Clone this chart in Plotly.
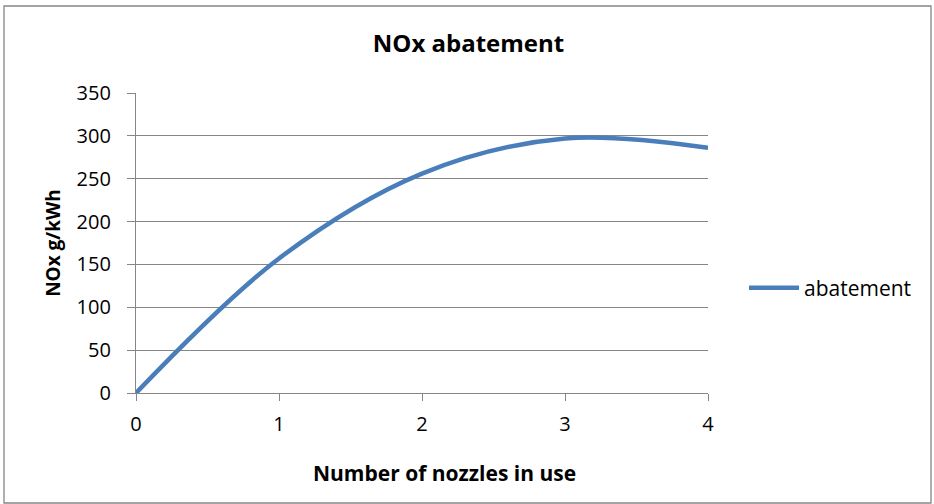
import plotly.graph_objects as go

# Measured NOx abatement by number of active nozzles
nozzles = [0, 1, 2, 3, 4]
abatement = [0, 157, 256, 297, 286]
y_ticks = [0, 50, 100, 150, 200, 250, 300, 350]
x_ticks = [0, 1, 2, 3, 4]

FONT = "'Open Sans', 'Noto Sans', sans-serif"
GRID = "#868686"

W, H = 934, 504
L, R, T, B = 136, 226, 93, 111
pw, ph = W - L - R, H - T - B

fig = go.Figure()
fig.add_trace(go.Scatter(
    x=nozzles, y=abatement, mode="lines", name="abatement",
    line=dict(color="#4a7ebb", width=4.5, shape="spline", smoothing=1.0),
))

fig.update_layout(
    width=W, height=H,
    margin=dict(l=L, r=R, t=T, b=B, autoexpand=False),
    paper_bgcolor="white", plot_bgcolor="white",
    font=dict(family=FONT, size=20, color="#000000"),
    title=dict(text="<b>NOx abatement</b>", x=468.5 / W, xanchor="center",
               y=1 - 44 / H, yanchor="middle", font=dict(size=24)),
    xaxis=dict(range=[0, 4], tickvals=x_ticks, showgrid=False,
               showline=True, linecolor=GRID, linewidth=1.3,
               ticks="outside", ticklen=7, tickcolor=GRID, tickwidth=1.3,
               ticklabelstandoff=6, zeroline=False,
               tickfont=dict(size=20)),
    yaxis=dict(range=[0, 350], tickvals=y_ticks, showgrid=True,
               gridcolor=GRID, gridwidth=1.3,
               showline=True, linecolor=GRID, linewidth=1.3,
               ticks="outside", ticklen=8, tickcolor=GRID, tickwidth=1.3,
               ticklabelstandoff=12, zeroline=False,
               title=dict(text="<b>NOx g/kWh</b>", standoff=10,
                          font=dict(size=19)),
               tickfont=dict(size=20)),
    showlegend=True,
    legend=dict(x=(744 - L) / pw, xanchor="left", y=(H - B - 288) / ph,
                yanchor="middle", font=dict(size=21), itemwidth=50,
                bgcolor="rgba(0,0,0,0)"),
)

# Horizontal axis title, placed as in the original layout
fig.add_annotation(text="<b>Number of nozzles in use</b>", xref="paper", yref="paper",
                   x=(444 - L) / pw, y=(H - B - 473) / ph,
                   xanchor="center", yanchor="middle", showarrow=False,
                   font=dict(size=21))

# Chart-area frame around the whole figure
fig.add_shape(type="rect", xref="paper", yref="paper",
              x0=(4 - L) / pw, x1=(931 - L) / pw,
              y0=(H - B - 503) / ph, y1=(H - B - 6) / ph,
              line=dict(color="#868686", width=1.3), layer="below")

fig.write_html("out.html")
